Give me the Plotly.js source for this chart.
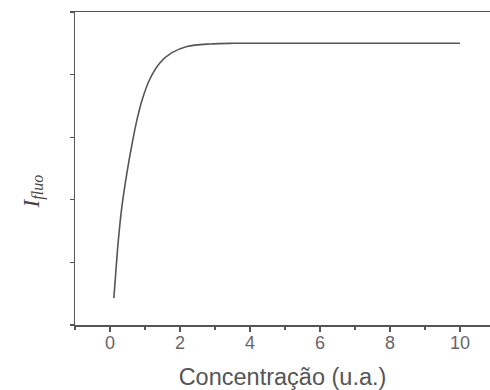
<!DOCTYPE html>
<html>
<head>
<meta charset="utf-8">
<script src="https://cdn.plot.ly/plotly-3.0.1.min.js"></script>
<style>
  html, body { margin: 0; padding: 0; background: #ffffff; overflow: hidden; }
  #chart { width: 490px; height: 390px; }
</style>
</head>
<body>
<div id="chart"></div>
<script>
// Fluorescence intensity versus concentration: steep rise, then saturation
const concentration = [0.11, 0.16, 0.23, 0.34, 0.49, 0.64, 0.78, 0.92, 1.14, 1.43, 1.77, 2.2, 2.86, 3.5, 5, 7.5, 10];
const intensity     = [0.43, 0.80, 1.30, 1.89, 2.45, 2.92, 3.30, 3.60, 3.93, 4.19, 4.35, 4.45, 4.49, 4.50, 4.50, 4.50, 4.50];
const xTickValues = [0, 2, 4, 6, 8, 10];
const xTickLabels = ['0', '2', '4', '6', '8', '10'];

const ink = '#555555';

const trace = {
  x: concentration,
  y: intensity,
  type: 'scatter',
  mode: 'lines',
  line: { color: ink, width: 1.6, shape: 'spline', smoothing: 0.9 },
  hoverinfo: 'skip'
};

const layout = {
  width: 490,
  height: 390,
  margin: { l: 75, r: 0, t: 12, b: 65 },
  paper_bgcolor: '#ffffff',
  plot_bgcolor: '#ffffff',
  showlegend: false,
  xaxis: {
    range: [-1, 10.86],
    tickmode: 'array',
    tickvals: xTickValues,
    ticktext: xTickLabels,
    ticks: 'outside',
    ticklen: 5,
    tickwidth: 1.2,
    tickcolor: ink,
    ticklabelstandoff: -4,
    minor: { dtick: 1, tick0: 1, ticks: 'outside', ticklen: 3, tickwidth: 1.2, tickcolor: ink, showgrid: false },
    showline: true,
    linecolor: ink,
    linewidth: 1.5,
    mirror: true,
    showgrid: false,
    zeroline: false,
    tickfont: { family: 'Liberation Sans, Arial, sans-serif', size: 18, color: '#666666' },
    title: {
      text: 'Concentração (u.a.)',
      font: { family: 'Liberation Sans, Arial, sans-serif', size: 23.5, color: '#555555' },
      standoff: 16
    }
  },
  yaxis: {
    range: [0, 5],
    dtick: 1,
    ticks: 'outside',
    ticklen: 4,
    tickwidth: 1.2,
    tickcolor: ink,
    showticklabels: false,
    showline: true,
    linecolor: ink,
    linewidth: 1.5,
    showgrid: false,
    zeroline: false
  },
  annotations: [{
    xref: 'paper', yref: 'paper',
    x: -0.1, y: 0.425,
    xanchor: 'center', yanchor: 'middle',
    textangle: -90,
    showarrow: false,
    text: '<i>I</i><sub><i>fluo</i></sub>',
    font: { family: 'Liberation Serif, Times New Roman, serif', size: 23, color: '#444444' }
  }]
};

Plotly.newPlot('chart', [trace], layout, { displayModeBar: false, staticPlot: true });
</script>
</body>
</html>
